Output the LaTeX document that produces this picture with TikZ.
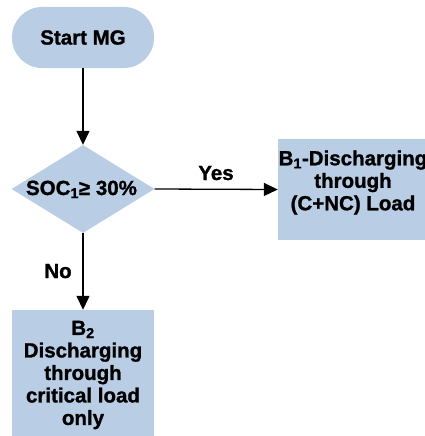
\documentclass[tikz,border=0pt]{standalone}
\usepackage{fontspec}
\setmainfont{Liberation Sans}[BoldFeatures={FakeBold=1.2}]
\usetikzlibrary{shapes.geometric,arrows.meta}
\definecolor{boxblue}{RGB}{185,205,229}
\begin{document}
\begin{tikzpicture}[x=1pt,y=-1pt,
  every node/.style={font=\fontsize{20.5}{22.5}\selectfont\bfseries},
  blk/.style={fill=boxblue,draw=none,inner sep=0pt},
  conn/.style={line width=1.3pt,-{Triangle[length=14pt,width=13pt]}},
]
\useasboundingbox (0,0) rectangle (425,436);
\node[blk,rounded corners=30pt,minimum width=142pt,minimum height=61pt] (start) at (83,37.5) {Start MG};
\node[blk,diamond,aspect=1.625,minimum width=143pt,minimum height=88pt] (dec) at (83,189) {};
\node[anchor=base,inner sep=0pt] (dectext) at (81.5,195) {SOC\textsubscript{1}≥ 30\%};
\node[blk,minimum width=148pt,minimum height=101pt] (b1) at (352,189.5) {};
\node[align=center] (b1text) at (353,182.5) {B\textsubscript{1}-Discharging\\through\\(C+NC) Load};
\node[blk,minimum width=142pt,minimum height=127pt] (b2) at (83,373.5) {};
\node[align=center] (b2text) at (83,375) {B\textsubscript{2}\\Discharging\\through\\critical load\\only};
\draw[conn] (start.south) -- (dec.north);
\draw[conn] (dec.east) -- (b1.west);
\draw[conn] (dec.south) -- (b2.north);
\node[anchor=base] (yes) at (216,180) {Yes};
\node[anchor=base] (no) at (58,278) {No};
\end{tikzpicture}
\end{document}
